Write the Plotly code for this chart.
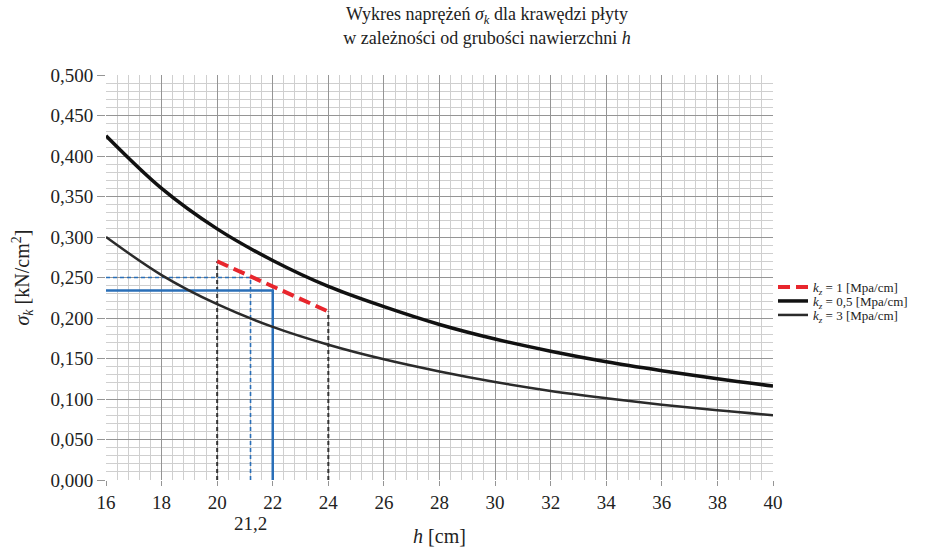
import plotly.graph_objects as go

# ---- data ----
h = [16, 18, 20, 22, 24, 26, 28, 30, 32, 34, 36, 38, 40]
sigma_k05 = [0.425, 0.360, 0.310, 0.271, 0.239, 0.214, 0.192, 0.174, 0.159, 0.146, 0.135, 0.125, 0.116]
sigma_k3 = [0.300, 0.253, 0.217, 0.189, 0.167, 0.149, 0.134, 0.121, 0.110, 0.101, 0.093, 0.086, 0.080]
h_k1 = [20, 24]
sigma_k1 = [0.270, 0.208]

# helper lines (reading construction)
h_read = 21.2
sigma_read = 0.250
h_design = 22
sigma_design = 0.234

serif = "Liberation Serif"
fig = go.Figure()

# construction lines (not in legend)
fig.add_trace(go.Scatter(x=[h_k1[0], h_k1[0]], y=[0, sigma_k1[0]], mode="lines",
                         line=dict(color="#333333", width=2, dash="4px,3px"), showlegend=False, hoverinfo="skip"))
fig.add_trace(go.Scatter(x=[h_k1[1], h_k1[1]], y=[0, sigma_k1[1]], mode="lines",
                         line=dict(color="#333333", width=2, dash="4px,3px"), showlegend=False, hoverinfo="skip"))
fig.add_trace(go.Scatter(x=[h[0], h_read, h_read], y=[sigma_read, sigma_read, 0], mode="lines",
                         line=dict(color="#2a6fb8", width=1.6, dash="4px,3px"), showlegend=False, hoverinfo="skip"))
fig.add_trace(go.Scatter(x=[h[0], h_design, h_design], y=[sigma_design, sigma_design, 0], mode="lines",
                         line=dict(color="#2a6fb8", width=2.5), showlegend=False, hoverinfo="skip"))

# main series
fig.add_trace(go.Scatter(x=h_k1, y=sigma_k1, mode="lines", name="<i>k<sub>z</sub></i> = 1 [Mpa/cm]",
                         line=dict(color="#e8262d", width=4, dash="12px,6px"), legend="legend"))
fig.add_trace(go.Scatter(x=h, y=sigma_k05, mode="lines", name="<i>k<sub>z</sub></i> = 0,5 [Mpa/cm]",
                         line=dict(color="#111111", width=3.5, shape="spline"), legend="legend2"))
fig.add_trace(go.Scatter(x=h, y=sigma_k3, mode="lines", name="<i>k<sub>z</sub></i> = 3 [Mpa/cm]",
                         line=dict(color="#2b2b2b", width=2.5, shape="spline"), legend="legend3"))

fig.add_annotation(x=h_read, y=0, xref="x", yref="paper", yshift=-43, yanchor="middle", text="21,2",
                   showarrow=False, font=dict(family=serif, size=19, color="#222"))

# y-axis title placed as rotated text
fig.add_annotation(x=(22 - 106) / 667.0, y=0.5, xref="paper", yref="paper", xanchor="center", yanchor="middle",
                   textangle=-90, text="<i>σ<sub>k</sub></i> [kN/cm<sup>2</sup>]", showarrow=False,
                   font=dict(family=serif, size=20, color="#222"))

leg_common = dict(xanchor="left", yanchor="middle", font=dict(family=serif, size=13, color="#222"),
                  itemwidth=30, bgcolor="rgba(0,0,0,0)", borderwidth=0)
ppx = 405.0  # plot height in px

fig.update_layout(
    width=933, height=547,
    margin=dict(l=106, r=160, t=75, b=67),
    paper_bgcolor="white", plot_bgcolor="white",
    separators=", ",
    font=dict(family=serif, size=19, color="#222"),
    title=dict(text="Wykres naprężeń <i>σ<sub>k</sub></i> dla krawędzi płyty<br>w zależności od grubości nawierzchni <i>h</i>",
               x=0.522, xref="container", xanchor="center", y=0.963, yanchor="top",
               font=dict(family=serif, size=18, color="#222")),
    legend=dict(x=1.0, y=(480 - 287) / ppx, **leg_common),
    legend2=dict(x=1.0, y=(480 - 301) / ppx, **leg_common),
    legend3=dict(x=1.0, y=(480 - 315) / ppx, **leg_common),
    showlegend=True,
)
fig.update_xaxes(range=[16, 40], dtick=2, tick0=16, showgrid=True, gridcolor="#959595", gridwidth=1.2,
                 minor=dict(dtick=0.4, showgrid=True, gridcolor="#cfcfcf", gridwidth=1),
                 ticks="outside", ticklen=5, tickcolor="#959595", zeroline=False, showline=False,
                 title=dict(text="<i>h</i> [cm]", standoff=30, font=dict(family=serif, size=20)),
                 automargin=False)
fig.update_yaxes(range=[0, 0.5], dtick=0.05, tick0=0, tickformat=".3f", showgrid=True, gridcolor="#959595", gridwidth=1.2,
                 minor=dict(dtick=0.01, showgrid=True, gridcolor="#cfcfcf", gridwidth=1),
                 ticks="outside", ticklen=8, tickcolor="#959595", zeroline=False, showline=False,
                 automargin=False)

fig.write_html("out.html")
